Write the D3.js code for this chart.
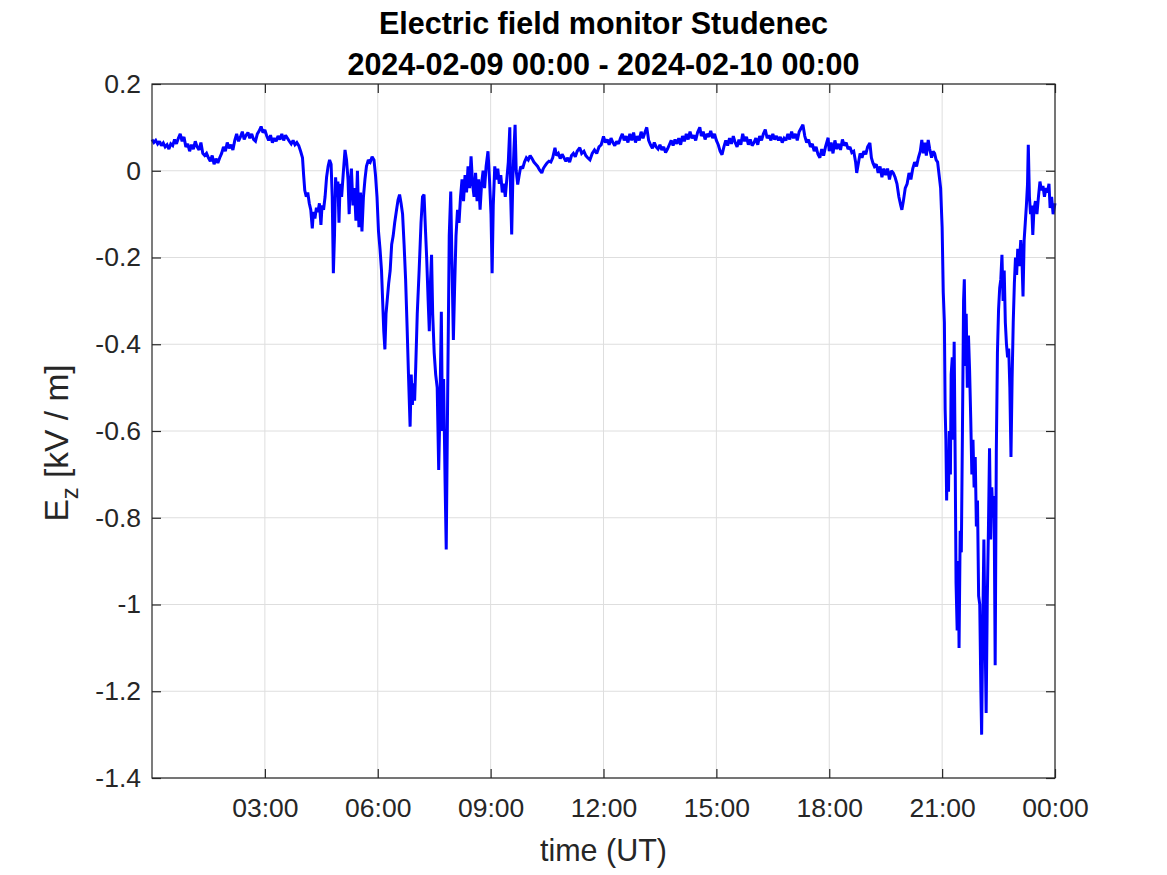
<!DOCTYPE html>
<html>
<head>
<meta charset="utf-8">
<script src="https://cdn.jsdelivr.net/npm/d3@7"></script>
<style>
  html, body { margin: 0; padding: 0; background: #ffffff; }
  svg { display: block; }
  text { font-family: "Liberation Sans", Arial, Helvetica, sans-serif; }
</style>
</head>
<body>
<svg id="chart" width="1167" height="875"></svg>
<script>
// ---- data (hours since 2024-02-09 00:00 UT, Ez in kV/m) ----
const hours = [
0.00,0.05,0.10,0.15,0.20,0.25,0.30,0.35,0.40,0.45,0.50,0.55,0.60,0.65,0.70,0.75,0.80,0.85,0.90,0.95,
1.00,1.05,1.10,1.15,1.20,1.25,1.30,1.35,1.40,1.45,1.50,1.55,1.60,1.65,1.70,1.75,1.80,1.85,1.90,1.95,
2.00,2.05,2.10,2.15,2.20,2.25,2.30,2.35,2.40,2.45,2.50,2.55,2.60,2.65,2.70,2.75,2.80,2.85,2.90,2.95,
3.00,3.05,3.10,3.15,3.20,3.25,3.30,3.35,3.40,3.45,3.50,3.55,3.60,3.65,3.70,3.75,3.80,3.85,3.90,3.95,
4.00,4.03,4.06,4.10,4.14,4.18,4.22,4.26,4.29,4.33,4.37,4.41,4.45,4.49,4.52,4.56,4.60,4.64,4.68,4.72,
4.76,4.79,4.82,4.85,4.88,4.91,4.94,4.97,5.00,5.04,5.08,5.13,5.17,5.21,5.24,5.27,5.30,5.34,5.38,5.42,
5.46,5.50,5.54,5.58,5.62,5.66,5.70,5.75,5.80,5.85,5.90,5.94,5.98,6.02,6.06,6.10,6.13,6.16,6.19,6.22,
6.25,6.29,6.33,6.37,6.41,6.45,6.50,6.54,6.58,6.62,6.66,6.70,6.74,6.78,6.82,6.86,6.89,6.92,6.95,6.98,
7.01,7.05,7.10,7.15,7.19,7.23,7.27,7.30,7.34,7.37,7.40,7.43,7.46,7.50,7.54,7.58,7.62,7.65,7.69,7.72,
7.75,7.79,7.82,7.86,7.90,7.94,7.97,8.01,8.04,8.08,8.12,8.16,8.20,8.24,8.28,8.32,8.36,8.40,8.44,8.48,
8.52,8.56,8.60,8.64,8.68,8.72,8.76,8.80,8.84,8.88,8.93,8.97,9.01,9.04,9.07,9.11,9.15,9.19,9.23,9.27,
9.31,9.35,9.39,9.43,9.47,9.51,9.53,9.56,9.59,9.62,9.65,9.68,9.72,9.76,9.80,9.85,9.90,9.95,10.00,10.05,
10.10,10.15,10.20,10.25,10.30,10.36,10.40,10.45,10.50,10.55,10.60,10.65,10.71,10.75,10.80,10.85,10.90,10.95,11.00,11.05,
11.10,11.15,11.20,11.25,11.30,11.37,11.42,11.48,11.53,11.58,11.64,11.70,11.76,11.82,11.88,11.94,12.00,12.05,12.10,12.15,
12.20,12.25,12.30,12.35,12.40,12.45,12.50,12.55,12.60,12.65,12.70,12.75,12.80,12.85,12.90,12.95,13.00,13.05,13.10,13.15,
13.20,13.25,13.30,13.35,13.40,13.45,13.50,13.55,13.60,13.65,13.70,13.75,13.80,13.85,13.90,13.95,14.00,14.05,14.10,14.15,
14.20,14.25,14.30,14.35,14.40,14.45,14.50,14.56,14.60,14.65,14.70,14.75,14.80,14.85,14.90,14.95,15.00,15.05,15.10,15.15,
15.20,15.25,15.30,15.35,15.40,15.45,15.50,15.55,15.60,15.65,15.70,15.75,15.80,15.85,15.90,15.95,16.00,16.05,16.10,16.15,
16.20,16.25,16.30,16.35,16.40,16.45,16.50,16.55,16.60,16.65,16.70,16.75,16.80,16.85,16.90,16.95,17.00,17.05,17.10,17.15,
17.20,17.30,17.35,17.40,17.45,17.50,17.55,17.60,17.65,17.70,17.75,17.80,17.85,17.90,17.97,18.00,18.05,18.10,18.15,18.20,
18.25,18.30,18.35,18.40,18.45,18.50,18.55,18.60,18.65,18.70,18.73,18.78,18.82,18.87,18.92,18.97,19.02,19.08,19.12,19.16,
19.20,19.25,19.30,19.35,19.40,19.45,19.50,19.55,19.60,19.65,19.70,19.75,19.80,19.85,19.90,19.93,19.97,20.02,20.07,20.12,
20.17,20.22,20.27,20.32,20.37,20.42,20.46,20.50,20.54,20.58,20.63,20.67,20.72,20.76,20.80,20.84,20.88,20.92,20.96,21.00,
21.03,21.06,21.08,21.10,21.12,21.14,21.17,21.19,21.22,21.24,21.27,21.29,21.32,21.35,21.37,21.40,21.43,21.45,21.48,21.51,
21.54,21.57,21.59,21.62,21.64,21.67,21.70,21.73,21.76,21.79,21.82,21.85,21.88,21.91,21.94,21.97,22.00,22.03,22.05,22.08,
22.11,22.14,22.17,22.20,22.23,22.26,22.29,22.32,22.35,22.38,22.41,22.44,22.47,22.50,22.53,22.56,22.59,22.62,22.65,22.68,
22.71,22.74,22.77,22.80,22.83,22.86,22.89,22.92,22.95,22.98,23.01,23.05,23.09,23.12,23.15,23.18,23.21,23.24,23.27,23.29,
23.32,23.35,23.38,23.41,23.44,23.48,23.52,23.56,23.60,23.64,23.68,23.72,23.76,23.80,23.84,23.87,23.91,23.95,24.00
];
const ez = [
0.072,0.065,0.070,0.062,0.068,0.058,0.064,0.055,0.060,0.050,0.062,0.058,0.072,0.062,0.075,0.085,0.068,0.078,0.055,0.062,
0.045,0.060,0.050,0.068,0.055,0.048,0.065,0.040,0.035,0.040,0.030,0.022,0.035,0.015,0.028,0.018,0.030,0.040,0.055,0.045,
0.065,0.052,0.060,0.048,0.070,0.085,0.068,0.078,0.090,0.072,0.082,0.088,0.075,0.085,0.072,0.068,0.085,0.092,0.102,0.088,
0.094,0.080,0.070,0.082,0.065,0.075,0.068,0.080,0.072,0.085,0.070,0.082,0.075,0.068,0.062,0.070,0.060,0.065,0.058,0.045,
0.030,-0.010,-0.045,-0.060,-0.050,-0.075,-0.090,-0.133,-0.095,-0.110,-0.085,-0.095,-0.075,-0.125,-0.080,-0.090,-0.060,-0.015,0.010,0.025,
0.015,-0.060,-0.236,-0.150,-0.015,-0.060,-0.025,-0.120,-0.030,-0.060,-0.010,0.048,0.025,-0.020,-0.100,-0.030,0.005,-0.080,-0.040,-0.115,
0.000,-0.130,-0.050,-0.140,-0.060,-0.020,0.010,0.025,0.020,0.032,0.025,-0.010,-0.060,-0.140,-0.180,-0.230,-0.300,-0.370,-0.412,-0.330,
-0.300,-0.260,-0.230,-0.170,-0.150,-0.120,-0.090,-0.067,-0.055,-0.075,-0.100,-0.170,-0.250,-0.360,-0.480,-0.590,-0.470,-0.540,-0.490,-0.530,
-0.450,-0.330,-0.230,-0.120,-0.060,-0.055,-0.140,-0.200,-0.300,-0.370,-0.260,-0.194,-0.330,-0.420,-0.470,-0.500,-0.690,-0.560,-0.325,-0.600,
-0.480,-0.720,-0.873,-0.500,-0.150,-0.048,-0.200,-0.390,-0.280,-0.150,-0.090,-0.120,-0.060,-0.020,-0.070,-0.010,-0.050,0.010,-0.040,0.033,
-0.030,-0.060,-0.005,-0.070,-0.020,-0.090,-0.030,0.000,-0.040,0.010,0.045,-0.020,-0.100,-0.236,-0.080,0.010,-0.020,0.005,-0.030,-0.010,
-0.050,-0.030,-0.060,-0.020,0.020,0.100,-0.050,-0.147,-0.020,0.050,0.106,0.000,-0.032,-0.010,0.010,0.005,0.020,0.030,0.025,0.035,
0.028,0.020,0.015,0.010,0.002,-0.005,0.005,0.012,0.018,0.022,0.020,0.030,0.053,0.035,0.040,0.028,0.038,0.030,0.022,0.030,
0.020,0.035,0.040,0.032,0.045,0.053,0.040,0.045,0.035,0.030,0.025,0.040,0.048,0.040,0.055,0.060,0.079,0.065,0.072,0.060,
0.075,0.065,0.058,0.068,0.062,0.075,0.085,0.070,0.080,0.065,0.085,0.070,0.088,0.065,0.080,0.070,0.090,0.075,0.088,0.100,
0.070,0.060,0.052,0.065,0.055,0.050,0.060,0.048,0.055,0.042,0.050,0.060,0.070,0.058,0.072,0.062,0.075,0.060,0.080,0.068,
0.085,0.072,0.090,0.075,0.082,0.070,0.088,0.100,0.080,0.090,0.072,0.085,0.078,0.092,0.075,0.085,0.070,0.060,0.045,0.037,
0.055,0.070,0.058,0.075,0.062,0.080,0.065,0.055,0.072,0.060,0.085,0.068,0.078,0.060,0.072,0.058,0.065,0.075,0.060,0.080,
0.070,0.085,0.095,0.075,0.082,0.070,0.085,0.072,0.080,0.070,0.078,0.065,0.075,0.070,0.085,0.072,0.090,0.075,0.085,0.070,
0.090,0.106,0.080,0.065,0.072,0.055,0.062,0.045,0.055,0.038,0.030,0.050,0.035,0.055,0.076,0.045,0.065,0.040,0.070,0.050,
0.062,0.048,0.072,0.058,0.065,0.050,0.055,0.042,0.045,0.020,-0.005,0.020,0.040,0.030,0.045,0.038,0.055,0.064,0.030,0.018,
0.010,0.015,-0.005,0.010,-0.015,0.005,-0.010,0.005,-0.020,0.000,-0.005,-0.015,-0.030,-0.060,-0.080,-0.090,-0.070,-0.040,-0.030,-0.005,
-0.020,0.005,0.020,0.010,0.030,0.045,0.071,0.040,0.065,0.035,0.071,0.050,0.030,0.045,0.040,0.025,0.020,-0.010,-0.040,-0.130,
-0.280,-0.350,-0.550,-0.620,-0.760,-0.650,-0.740,-0.600,-0.700,-0.470,-0.430,-0.620,-0.394,-0.700,-0.950,-1.060,-0.900,-1.100,-0.830,-0.880,
-0.600,-0.300,-0.250,-0.450,-0.330,-0.500,-0.380,-0.460,-0.570,-0.700,-0.620,-0.730,-0.660,-0.820,-0.760,-0.980,-1.000,-1.200,-1.300,-1.050,
-0.850,-1.060,-1.250,-0.990,-0.830,-0.640,-0.850,-0.730,-0.800,-0.750,-1.140,-0.650,-0.420,-0.320,-0.270,-0.250,-0.194,-0.300,-0.230,-0.350,
-0.400,-0.430,-0.410,-0.500,-0.660,-0.480,-0.350,-0.260,-0.200,-0.240,-0.180,-0.220,-0.160,-0.200,-0.290,-0.160,-0.120,-0.080,-0.030,0.060,
-0.060,-0.100,-0.080,-0.148,-0.090,-0.070,-0.100,-0.060,-0.025,-0.045,-0.035,-0.060,-0.040,-0.050,-0.030,-0.086,-0.060,-0.100,-0.075
];
const xTickHours  = [3, 6, 9, 12, 15, 18, 21, 24];
const xTickLabels = ["03:00","06:00","09:00","12:00","15:00","18:00","21:00","00:00"];
const yTickValues = [0.2, 0, -0.2, -0.4, -0.6, -0.8, -1, -1.2, -1.4];
const yTickLabels = ["0.2","0","-0.2","-0.4","-0.6","-0.8","-1","-1.2","-1.4"];
const titleLines  = ["Electric field monitor Studenec", "2024-02-09 00:00 - 2024-02-10 00:00"];
const xLabel = "time (UT)";

// ---- layout ----
const W = 1167, H = 875;
const L = 152, R = 1055, T = 84, B = 778;
const t0 = Date.UTC(2024, 1, 9, 0, 0);
const toDate = h => new Date(t0 + h * 3600e3);

const svg = d3.select("#chart");
svg.append("rect").attr("width", W).attr("height", H).attr("fill", "#ffffff");

const x = d3.scaleUtc().domain([toDate(0), toDate(24)]).range([L, R]);
const y = d3.scaleLinear().domain([-1.4, 0.2]).range([B, T]);

const axisColor = "#262626";
const gridColor = "#dedede";
const tickLen = 9;

// grid
const grid = svg.append("g");
grid.selectAll("line.gx").data(xTickHours).join("line")
  .attr("x1", d => x(toDate(d))).attr("x2", d => x(toDate(d)))
  .attr("y1", T).attr("y2", B)
  .attr("stroke", gridColor).attr("stroke-width", 1);
grid.selectAll("line.gy").data(yTickValues).join("line")
  .attr("x1", L).attr("x2", R)
  .attr("y1", d => y(d)).attr("y2", d => y(d))
  .attr("stroke", gridColor).attr("stroke-width", 1);

// data line
const pts = hours.map((h, i) => ({ t: toDate(h), v: ez[i] }));
const line = d3.line().x(d => x(d.t)).y(d => y(d.v));
svg.append("path").datum(pts)
  .attr("d", line)
  .attr("fill", "none")
  .attr("stroke", "#0000ff")
  .attr("stroke-width", 3)
  .attr("stroke-linejoin", "miter")
  .attr("stroke-miterlimit", 2);

// axes (ticks inward)
const xAxisB = d3.axisBottom(x).tickValues(xTickHours.map(toDate))
  .tickSizeInner(-tickLen).tickSizeOuter(0).tickPadding(20)
  .tickFormat((d, i) => xTickLabels[i]);
const xAxisT = d3.axisTop(x).tickValues(xTickHours.map(toDate))
  .tickSizeInner(-tickLen).tickSizeOuter(0).tickFormat("");
const yAxisL = d3.axisLeft(y).tickValues(yTickValues)
  .tickSizeInner(-tickLen).tickSizeOuter(0).tickPadding(11)
  .tickFormat((d, i) => yTickLabels[i]);
const yAxisR = d3.axisRight(y).tickValues(yTickValues)
  .tickSizeInner(-tickLen).tickSizeOuter(0).tickFormat("");

function style(g) {
  g.select(".domain").remove();
  g.selectAll(".tick line").attr("stroke", axisColor).attr("stroke-width", 1.2);
  g.selectAll(".tick text").attr("fill", axisColor)
    .style("font-family", '"Liberation Sans", Arial, sans-serif')
    .style("font-size", "26.5px");
}
svg.append("g").attr("transform", `translate(0,${B})`).call(xAxisB).call(style);
svg.append("g").attr("transform", `translate(0,${T})`).call(xAxisT).call(style);
svg.append("g").attr("transform", `translate(${L},0)`).call(yAxisL).call(style);
svg.append("g").attr("transform", `translate(${R},0)`).call(yAxisR).call(style);

// box
svg.append("rect").attr("x", L).attr("y", T).attr("width", R - L).attr("height", B - T)
  .attr("fill", "none").attr("stroke", axisColor).attr("stroke-width", 1.2);

// labels
svg.append("text").attr("x", (L + R) / 2).attr("y", 861)
  .attr("text-anchor", "middle").attr("fill", axisColor)
  .style("font-size", "30.5px").text(xLabel);

const yl = svg.append("text")
  .attr("transform", `translate(68,443) rotate(-90)`)
  .attr("text-anchor", "middle").attr("fill", axisColor)
  .style("font-size", "33.5px");
yl.append("tspan").text("E");
yl.append("tspan").attr("dy", 10).style("font-size", "24px").text("z");
yl.append("tspan").attr("dy", -10).text(" [kV / m]");

// title
svg.selectAll("text.title").data(titleLines).join("text")
  .attr("class", "title")
  .attr("x", (L + R) / 2).attr("y", (d, i) => 34 + i * 41)
  .attr("text-anchor", "middle").attr("fill", "#000000")
  .style("font-size", "30.5px").style("font-weight", "bold")
  .text(d => d);
</script>
</body>
</html>
